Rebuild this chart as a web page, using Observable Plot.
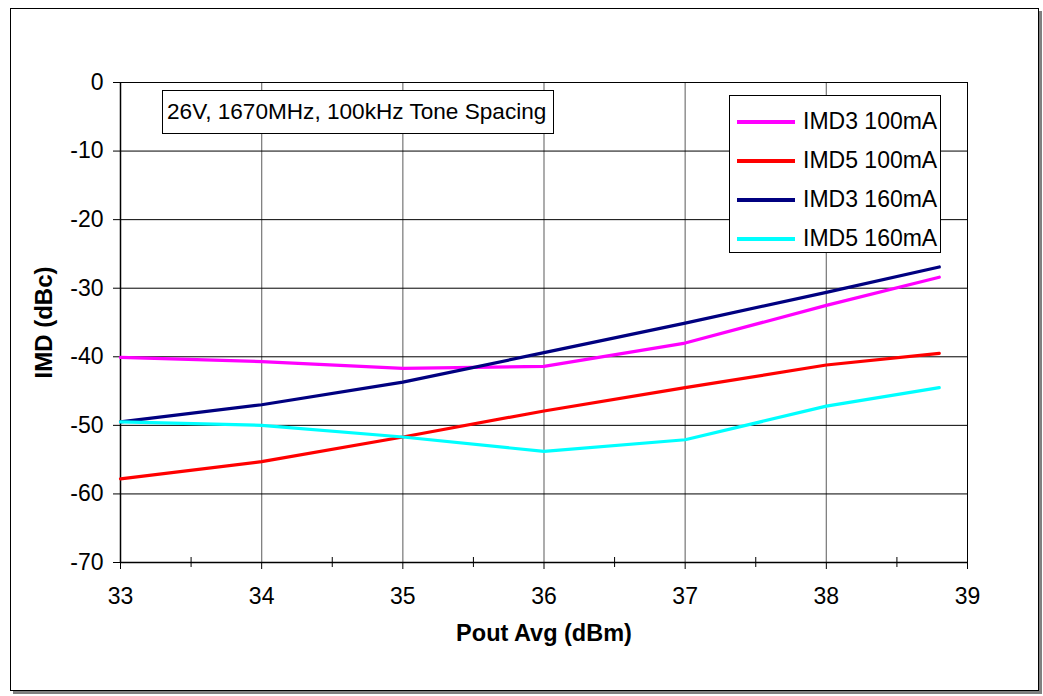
<!DOCTYPE html>
<html>
<head>
<meta charset="utf-8">
<script src="https://cdn.jsdelivr.net/npm/d3@7"></script>
<script src="https://cdn.jsdelivr.net/npm/@observablehq/plot@0.6"></script>
<style>
  html, body { margin: 0; padding: 0; background: #fff; }
  body { width: 1043px; height: 696px; position: relative; overflow: hidden;
         font-family: "Liberation Sans", Arial, sans-serif; }
  #frame { position: absolute; left: 10px; top: 8px; width: 1027px; height: 681px;
           border: 1px solid #000; box-shadow: 3px 3px 0 #808080; background: #fff; }
  #chart { position: absolute; left: 0; top: 0; }
  #note { position: absolute; left: 162px; top: 90px; width: 392px; height: 44px;
          border: 1px solid #000; background: #fff; font-size: 22.6px; line-height: 42px;
          padding-left: 4px; box-sizing: border-box; white-space: nowrap; color: #000; }
  #legend { position: absolute; left: 729px; top: 95px; width: 212px; height: 158px;
            border: 1px solid #000; background: #fff; box-sizing: border-box; }
  .item { position: absolute; left: 7px; height: 39px; display: flex; align-items: center;
          font-size: 23px; white-space: nowrap; color: #000; }
  .swatch { width: 58px; height: 4px; margin-right: 8px; }
</style>
</head>
<body>
<div id="frame"></div>
<div id="chart"></div>
<div id="note"></div>
<div id="legend"></div>
<script>
// ---- data ----
const pout = [33, 34, 35, 36, 37, 38, 38.8];
const imd3_100 = [-40.1, -40.7, -41.7, -41.4, -38.0, -32.5, -28.4];
const imd5_100 = [-57.8, -55.3, -51.7, -47.9, -44.5, -41.2, -39.5];
const imd3_160 = [-49.5, -47.0, -43.7, -39.4, -35.1, -30.6, -26.9];
const imd5_160 = [-49.5, -50.0, -51.7, -53.8, -52.1, -47.2, -44.5];

const seriesNames = ["IMD3 100mA", "IMD5 100mA", "IMD3 160mA", "IMD5 160mA"];
const seriesColors = ["#ff00ff", "#ff0000", "#000080", "#00ffff"];
const seriesValues = [imd3_100, imd5_100, imd3_160, imd5_160];

const xTicks = [33, 34, 35, 36, 37, 38, 39];
const xMinorTicks = [33.5, 34.5, 35.5, 36.5, 37.5, 38.5];
const yTicks = [0, -10, -20, -30, -40, -50, -60, -70];
const xLabel = "Pout Avg (dBm)";
const yLabel = "IMD (dBc)";
const noteText = "26V, 1670MHz, 100kHz Tone Spacing";

// ---- build table ----
const rows = [];
seriesNames.forEach((name, s) => {
  pout.forEach((x, i) => rows.push({series: name, x, y: seriesValues[s][i]}));
});

const font = '"Liberation Sans", Arial, sans-serif';
const plainFormat = d => String(d);

const chart = Plot.plot({
  width: 1043,
  height: 696,
  marginLeft: 120,
  marginRight: 76,
  marginTop: 82,
  marginBottom: 134,
  style: {background: "transparent", fontFamily: font, fontSize: "23px", color: "#000", overflow: "visible"},
  x: {domain: [33, 39]},
  y: {domain: [-70, 0]},
  color: {domain: seriesNames, range: seriesColors},
  marks: [
    Plot.gridX(xTicks.slice(1, -1), {stroke: "#808080", strokeOpacity: 1, strokeWidth: 1.3}),
    Plot.gridX([39], {stroke: "#000", strokeOpacity: 1}),
    Plot.gridY(yTicks, {stroke: "#000", strokeOpacity: 1}),
    Plot.ruleX([33], {stroke: "#000", strokeWidth: 1.5}),
    Plot.ruleY([-70], {stroke: "#000", strokeWidth: 1.5}),
    Plot.axisX({ticks: xTicks, tickSize: 7, tickPadding: 18, fontSize: 23, tickFormat: plainFormat, label: null, stroke: "#000"}),
    Plot.axisX({ticks: xMinorTicks, tickSize: 10, dy: -5, tickFormat: () => "", label: null, stroke: "#000"}),
    Plot.axisY({ticks: yTicks, tickSize: 7, tickPadding: 10, fontSize: 23, tickFormat: plainFormat, label: null, stroke: "#000"}),
    Plot.line(rows, {x: "x", y: "y", z: "series", stroke: "series", strokeWidth: 3.2, curve: "linear"}),
    Plot.text([xLabel], {frameAnchor: "bottom", dy: 78, fontWeight: "bold", fontSize: 23.5, fill: "#000"}),
    Plot.text([yLabel], {frameAnchor: "left", textAnchor: "middle", dx: -76, rotate: -90, fontWeight: "bold", fontSize: 24, fill: "#000"})
  ]
});
document.getElementById("chart").appendChild(chart);

document.getElementById("note").textContent = noteText;

const legend = document.getElementById("legend");
seriesNames.forEach((name, i) => {
  const item = document.createElement("div");
  item.className = "item";
  item.style.top = (6 + i * 39) + "px";
  const sw = document.createElement("div");
  sw.className = "swatch";
  sw.style.background = seriesColors[i];
  const label = document.createElement("span");
  label.textContent = name;
  item.appendChild(sw);
  item.appendChild(label);
  legend.appendChild(item);
});
</script>
</body>
</html>
